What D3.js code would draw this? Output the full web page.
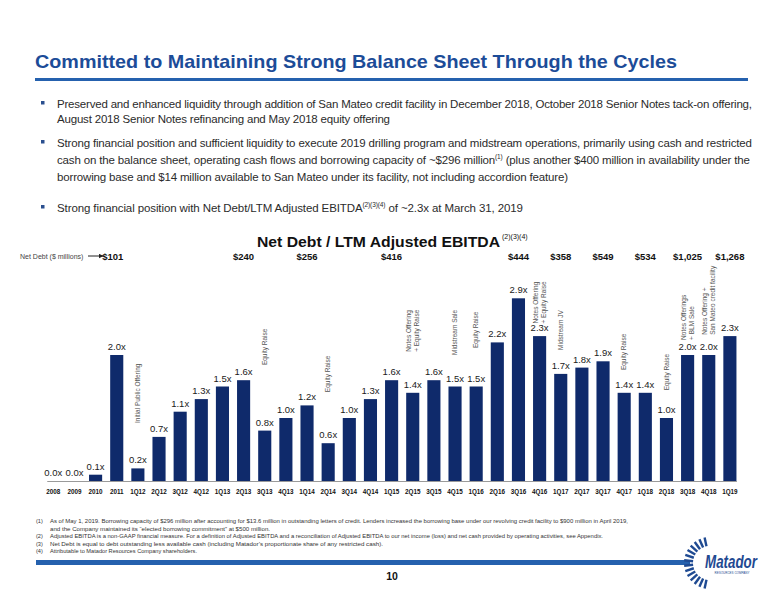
<!DOCTYPE html>
<html><head><meta charset="utf-8">
<script src="https://cdn.jsdelivr.net/npm/d3@7"></script>
<style>
body{margin:0;background:#fff;}
svg{display:block;font-family:"Liberation Sans",Arial,Helvetica,sans-serif;}
</style>
</head><body>
<svg id="c" width="776" height="600"></svg>
<script>
// ---------- DATA ----------
const categories = ["2008","2009","2010","2011","1Q12","2Q12","3Q12","4Q12","1Q13","2Q13","3Q13","4Q13","1Q14","2Q14","3Q14","4Q14","1Q15","2Q15","3Q15","4Q15","1Q16","2Q16","3Q16","4Q16","1Q17","2Q17","3Q17","4Q17","1Q18","2Q18","3Q18","4Q18","1Q19"];
const ratios = [0.0,0.0,0.1,2.0,0.2,0.7,1.1,1.3,1.5,1.6,0.8,1.0,1.2,0.6,1.0,1.3,1.6,1.4,1.6,1.5,1.5,2.2,2.9,2.3,1.7,1.8,1.9,1.4,1.4,1.0,2.0,2.0,2.3];
const netDebtCats = ["2011","2Q13","1Q14","1Q15","3Q16","1Q17","3Q17","1Q18","3Q18","1Q19"];
const netDebtValues = [101,240,256,416,444,358,549,534,1025,1268];
const eventCats = ["1Q12","3Q13","2Q14","2Q15","4Q15","1Q16","4Q16","1Q17","4Q17","2Q18","3Q18","4Q18"];
const eventTexts = [["Initial Public Offering"],["Equity Raise"],["Equity Raise"],["Notes Offering","+ Equity Raise"],["Midstream Sale"],["Equity Raise"],["Notes Offering","+ Equity Raise"],["Midstream JV"],["Equity Raise"],["Equity Raise"],["Notes Offerings","+ BLM Sale"],["Notes Offering +","San Mateo credit facility"]];
const eventLevels = [0.92,1.84,1.41,2.05,2.0,2.11,2.5,2.08,1.76,1.44,2.24,2.32];

const pageTitle = "Committed to Maintaining Strong Balance Sheet Through the Cycles";
const chartTitle = "Net Debt / LTM Adjusted EBITDA";
const chartTitleSup = "(2)(3)(4)";
const netDebtLabel = "Net Debt ($ millions)";
const bullets = [
  [[{t:"Preserved and enhanced liquidity through addition of San Mateo credit facility in December 2018, October 2018 Senior Notes tack-on offering,"}],
   [{t:"August 2018 Senior Notes refinancing and May 2018 equity offering"}]],
  [[{t:"Strong financial position and sufficient liquidity to execute 2019 drilling program and midstream operations, primarily using cash and restricted"}],
   [{t:"cash on the balance sheet, operating cash flows and borrowing capacity of ~$296 million"},{t:"(1)",sup:true},{t:" (plus another $400 million in availability under the"}],
   [{t:"borrowing base and $14 million available to San Mateo under its facility, not including accordion feature)"}]],
  [[{t:"Strong financial position with Net Debt/LTM Adjusted EBITDA"},{t:"(2)(3)(4)",sup:true},{t:" of ~2.3x at March 31, 2019"}]]
];
const bulletWidths = [[695,333],[695,693,511],[466]];
const footnoteMarks = ["(1)","","(2)","(3)","(4)"];
const footnotes = [
  "As of May 1, 2019. Borrowing capacity of $296 million after accounting for $13.6 million in outstanding letters of credit. Lenders increased the borrowing base under our revolving credit facility to $900 million in April 2019,",
  "and the Company maintained its \u201celected borrowing commitment\u201d at $500 million.",
  "Adjusted EBITDA is a non-GAAP financial measure. For a definition of Adjusted EBITDA and a reconciliation of Adjusted EBITDA to our net income (loss) and net cash provided by operating activities, see Appendix.",
  "Net Debt is equal to debt outstanding less available cash (including Matador\u2019s proportionate share of any restricted cash).",
  "Attributable to Matador Resources Company shareholders."
];
const footnoteWidths = [578,220,553,333,147];
const pageNumber = "10";

// ---------- DRAW ----------
const svg = d3.select("#c");
const navy = "#0f2a6b";
const blue = "#1c4c98";

// page title
svg.append("text").attr("x",35).attr("y",68)
  .attr("font-size",18.5).attr("font-weight","bold").attr("fill",blue)
  .attr("textLength",642).attr("lengthAdjust","spacingAndGlyphs").text(pageTitle);
svg.append("rect").attr("x",35).attr("y",78).attr("width",713).attr("height",3).attr("fill","#2561ae");

// bullets
const bulletY = [[108,123],[147,164,181],[212]];
bullets.forEach((b,bi)=>{
  svg.append("rect").attr("x",41).attr("y",bulletY[bi][0]-7).attr("width",3.5).attr("height",3.5).attr("fill","#2a4f8f");
  b.forEach((line,li)=>{
    const t = svg.append("text").attr("x",57).attr("y",bulletY[bi][li])
      .attr("font-size",11.5).attr("fill","#2b2b2b")
      .attr("textLength",bulletWidths[bi][li]).attr("lengthAdjust","spacing");
    line.forEach(seg=>{
      const ts = t.append("tspan").text(seg.t);
      if(seg.sup){ ts.attr("font-size",6.5).attr("dy",-5); }
      else if(t.selectAll("tspan").size()>1){ ts.attr("dy",5); }
    });
  });
});

// chart scales
const x = d3.scaleBand().domain(categories).range([46.75,736.45]).paddingInner(0.38).paddingOuter(0);
const y = d3.scaleLinear().domain([0,3]).range([481,292]);
const cx = c => x(c)+x.bandwidth()/2;

// chart title
svg.append("text").attr("x",257).attr("y",247)
  .attr("font-size",15.5).attr("font-weight","bold").attr("fill","#111")
  .attr("textLength",243).attr("lengthAdjust","spacingAndGlyphs").text(chartTitle);
svg.append("text").attr("x",502).attr("y",239).attr("font-size",7).attr("fill","#111").text(chartTitleSup);

// net debt label + arrow
svg.append("defs").append("marker").attr("id","ah").attr("viewBox","0 0 10 10").attr("refX",9).attr("refY",5)
  .attr("markerWidth",5).attr("markerHeight",5).attr("orient","auto")
  .append("path").attr("d","M0,0L10,5L0,10z").attr("fill","#222");
svg.append("text").attr("x",20).attr("y",258.5).attr("font-size",7).attr("fill","#444").text(netDebtLabel);
svg.append("line").attr("x1",88).attr("x2",103).attr("y1",256).attr("y2",256)
  .attr("stroke","#222").attr("stroke-width",1).attr("marker-end","url(#ah)");
const fmt = d3.format("$,");
svg.append("g").selectAll("text").data(netDebtCats).join("text")
  .attr("x",(d,i)=>cx(d) - (i===0?4:0)).attr("y",260).attr("text-anchor","middle")
  .attr("font-size",9.5).attr("font-weight","bold").attr("fill","#111")
  .text((d,i)=>fmt(netDebtValues[i]));

// axis
const xAxis = d3.axisBottom(x).tickSize(0).tickPadding(0);
const ax = svg.append("g").attr("transform","translate(0,481)").call(xAxis);
ax.select(".domain").attr("stroke","#9a9a9a").attr("stroke-width",1);
ax.selectAll("text").attr("font-size",6.3).attr("font-weight","bold").attr("fill","#111")
  .attr("font-family","'Liberation Sans',Arial,sans-serif").attr("dy",0).attr("y",13);

// bars
svg.append("g").selectAll("rect").data(categories).join("rect")
  .attr("x",d=>x(d)).attr("width",x.bandwidth())
  .attr("y",(d,i)=>y(ratios[i])).attr("height",(d,i)=>y(0)-y(ratios[i]))
  .attr("fill",navy);

// value labels
svg.append("g").selectAll("text").data(categories).join("text")
  .attr("x",d=>cx(d)).attr("y",(d,i)=>y(ratios[i])-5).attr("text-anchor","middle")
  .attr("font-size",9.5).attr("fill","#1a1a1a")
  .text((d,i)=>ratios[i].toFixed(1)+"x");

// event annotations (vertical)
const ev = svg.append("g").selectAll("g").data(eventCats).join("g")
  .attr("transform",(d,i)=>`translate(${cx(d)},${y(eventLevels[i])}) rotate(-90)`);
ev.each(function(d,i){
  const lines = eventTexts[i];
  const g = d3.select(this);
  lines.forEach((ln,li)=>{
    g.append("text").attr("x",0).attr("y",(li-(lines.length-1)/2)*7.6)
      .attr("dy","0.35em").attr("font-size",6.5).attr("fill","#555").text(ln);
  });
});

// footnotes
const fnY = [523,530.5,538,545.5,553];
footnotes.forEach((f,i)=>{
  if(footnoteMarks[i]) svg.append("text").attr("x",36).attr("y",fnY[i]).attr("font-size",5.6).attr("fill","#333").text(footnoteMarks[i]);
  svg.append("text").attr("x",50).attr("y",fnY[i]).attr("font-size",5.6).attr("fill","#333")
    .attr("textLength",footnoteWidths[i]).attr("lengthAdjust","spacingAndGlyphs").text(f);
});

// footer bar
svg.append("rect").attr("x",36).attr("y",560).attr("width",654).attr("height",5).attr("fill","#2561ae");
svg.append("text").attr("x",392).attr("y",580).attr("text-anchor","middle").attr("font-size",10.5)
  .attr("font-weight","bold").attr("fill","#111").text(pageNumber);

// logo
const logo = svg.append("g").attr("transform","translate(710,563)");
const rays = d3.range(-78,80,12);
logo.selectAll("line").data(rays).join("line")
  .attr("x1",d=>-Math.cos(d*Math.PI/180)*17)
  .attr("y1",d=>-Math.sin(d*Math.PI/180)*17)
  .attr("x2",d=>-Math.cos(d*Math.PI/180)*26)
  .attr("y2",d=>-Math.sin(d*Math.PI/180)*26)
  .attr("stroke","#1f4a92").attr("stroke-width",2.4);
logo.append("text").attr("x",-5).attr("y",5).attr("font-size",18).attr("font-weight","bold")
  .attr("font-style","italic").attr("fill","#1f4a92").attr("textLength",52).attr("lengthAdjust","spacingAndGlyphs").text("Matador");
logo.append("text").attr("x",22).attr("y",11).attr("text-anchor","middle").attr("font-size",3).attr("fill","#1f4a92").text("RESOURCES COMPANY");
</script>
</body></html>
